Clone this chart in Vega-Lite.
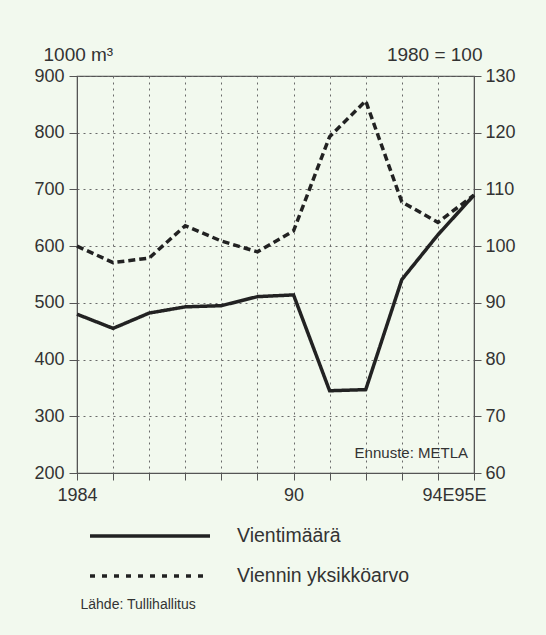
{
  "$schema": "https://vega.github.io/schema/vega-lite/v6.json",
  "autosize": "none",
  "width": 397,
  "height": 397,
  "padding": {"left": 77, "top": 76, "right": 72, "bottom": 162},
  "background": "#f2f9ee",
  "config": {
    "view": {"stroke": "#555", "strokeWidth": 1.2},
    "font": "Liberation Sans",
    "axis": {"labelFont": "Liberation Sans", "labelFontSize": 18, "labelColor": "#333", "domainColor": "#555", "tickColor": "#555", "titleFont": "Liberation Sans", "titleFontSize": 19, "titleFontWeight": "normal", "titleColor": "#333"}
  },
  "data": {"values": [
    {"vuosi": 1984, "sarja": "Vientimäärä", "arvo": 480},
    {"vuosi": 1985, "sarja": "Vientimäärä", "arvo": 455},
    {"vuosi": 1986, "sarja": "Vientimäärä", "arvo": 482},
    {"vuosi": 1987, "sarja": "Vientimäärä", "arvo": 493},
    {"vuosi": 1988, "sarja": "Vientimäärä", "arvo": 495},
    {"vuosi": 1989, "sarja": "Vientimäärä", "arvo": 511},
    {"vuosi": 1990, "sarja": "Vientimäärä", "arvo": 514},
    {"vuosi": 1991, "sarja": "Vientimäärä", "arvo": 345},
    {"vuosi": 1992, "sarja": "Vientimäärä", "arvo": 347},
    {"vuosi": 1993, "sarja": "Vientimäärä", "arvo": 541},
    {"vuosi": 1994, "sarja": "Vientimäärä", "arvo": 620},
    {"vuosi": 1995, "sarja": "Vientimäärä", "arvo": 690},
    {"vuosi": 1984, "sarja": "Viennin yksikköarvo", "arvo": 100},
    {"vuosi": 1985, "sarja": "Viennin yksikköarvo", "arvo": 97.1},
    {"vuosi": 1986, "sarja": "Viennin yksikköarvo", "arvo": 97.9},
    {"vuosi": 1987, "sarja": "Viennin yksikköarvo", "arvo": 103.6},
    {"vuosi": 1988, "sarja": "Viennin yksikköarvo", "arvo": 100.9},
    {"vuosi": 1989, "sarja": "Viennin yksikköarvo", "arvo": 99},
    {"vuosi": 1990, "sarja": "Viennin yksikköarvo", "arvo": 102.7},
    {"vuosi": 1991, "sarja": "Viennin yksikköarvo", "arvo": 119.3},
    {"vuosi": 1992, "sarja": "Viennin yksikköarvo", "arvo": 125.6},
    {"vuosi": 1993, "sarja": "Viennin yksikköarvo", "arvo": 107.8},
    {"vuosi": 1994, "sarja": "Viennin yksikköarvo", "arvo": 104.2},
    {"vuosi": 1995, "sarja": "Viennin yksikköarvo", "arvo": 109}
  ]},
  "encoding": {
    "x": {"field": "vuosi", "type": "quantitative", "scale": {"domain": [1984, 1995], "nice": false, "zero": false},
      "axis": {"values": [1984,1985,1986,1987,1988,1989,1990,1991,1992,1993,1994,1995],
        "labelExpr": "datum.value == 1984 ? '1984' : datum.value == 1990 ? '90' : datum.value == 1994 ? '94E' : datum.value == 1995 ? '95E' : ''",
        "labelOverlap": false, "labelFlush": false, "labelBound": false, "tickSize": 7, "labelPadding": 6,
        "labelOffset": {"expr": "datum.value == 1995 ? -4 : 0"},
        "grid": true, "gridDash": [2, 4], "gridColor": "#6a6a6a", "gridWidth": 1,
        "title": "Lähde: Tullihallitus", "titleFontSize": 14, "titleAnchor": "start", "titleAlign": "left", "titleBaseline": "alphabetic",
        "titleX": 3, "titleY": 135}}
  },
  "layer": [
    {
      "transform": [{"filter": "datum.sarja === 'Vientimäärä'"}],
      "mark": {"type": "line", "color": "#222", "strokeWidth": 3.5, "strokeJoin": "miter"},
      "encoding": {
        "y": {"field": "arvo", "type": "quantitative", "scale": {"domain": [200, 900], "nice": false, "zero": false},
          "axis": {"orient": "left", "values": [200,300,400,500,600,700,800,900], "tickSize": 8, "labelPadding": 5,
            "grid": true, "gridDash": [2, 4], "gridColor": "#6a6a6a", "gridWidth": 1,
            "title": "1000 m³", "titleAngle": 0, "titleAlign": "left", "titleBaseline": "alphabetic", "titleX": -34, "titleY": -16}},
        "strokeDash": {"field": "sarja", "type": "nominal",
          "scale": {"domain": ["Vientimäärä", "Viennin yksikköarvo"], "range": [[1, 0], [5, 7]]},
          "legend": {"orient": "none", "legendX": 61, "legendY": 448, "title": null, "symbolType": "M-6,0H6", "symbolSize": 400,
            "symbolStrokeWidth": 3.5, "symbolStrokeColor": "#222", "labelFontSize": 19.5, "labelFont": "Liberation Sans", "labelColor": "#333",
            "labelOffset": 75, "labelLimit": 400, "rowPadding": 18}}
      }
    },
    {
      "transform": [{"filter": "datum.sarja === 'Viennin yksikköarvo'"}],
      "mark": {"type": "line", "color": "#222", "strokeWidth": 3.5, "strokeDash": [7, 4]},
      "encoding": {
        "y": {"field": "arvo", "type": "quantitative", "scale": {"domain": [60, 130], "nice": false, "zero": false},
          "axis": {"orient": "right", "values": [60,70,80,90,100,110,120,130], "tickSize": 7, "labelPadding": 4, "grid": false,
            "title": "1980 = 100", "titleAngle": 0, "titleAlign": "right", "titleBaseline": "alphabetic", "titleX": 8, "titleY": -16}}
      }
    },
    {
      "data": {"values": [{"vuosi": 1995, "arvo": 226, "teksti": "Ennuste: METLA"}]},
      "mark": {"type": "text", "align": "right", "baseline": "alphabetic", "dx": -6, "fontSize": 15, "font": "Liberation Sans", "color": "#333"},
      "encoding": {
        "y": {"field": "arvo", "type": "quantitative", "scale": {"domain": [200, 900]}, "axis": null},
        "text": {"field": "teksti"}
      }
    }
  ],
  "resolve": {"scale": {"y": "independent"}}
}
